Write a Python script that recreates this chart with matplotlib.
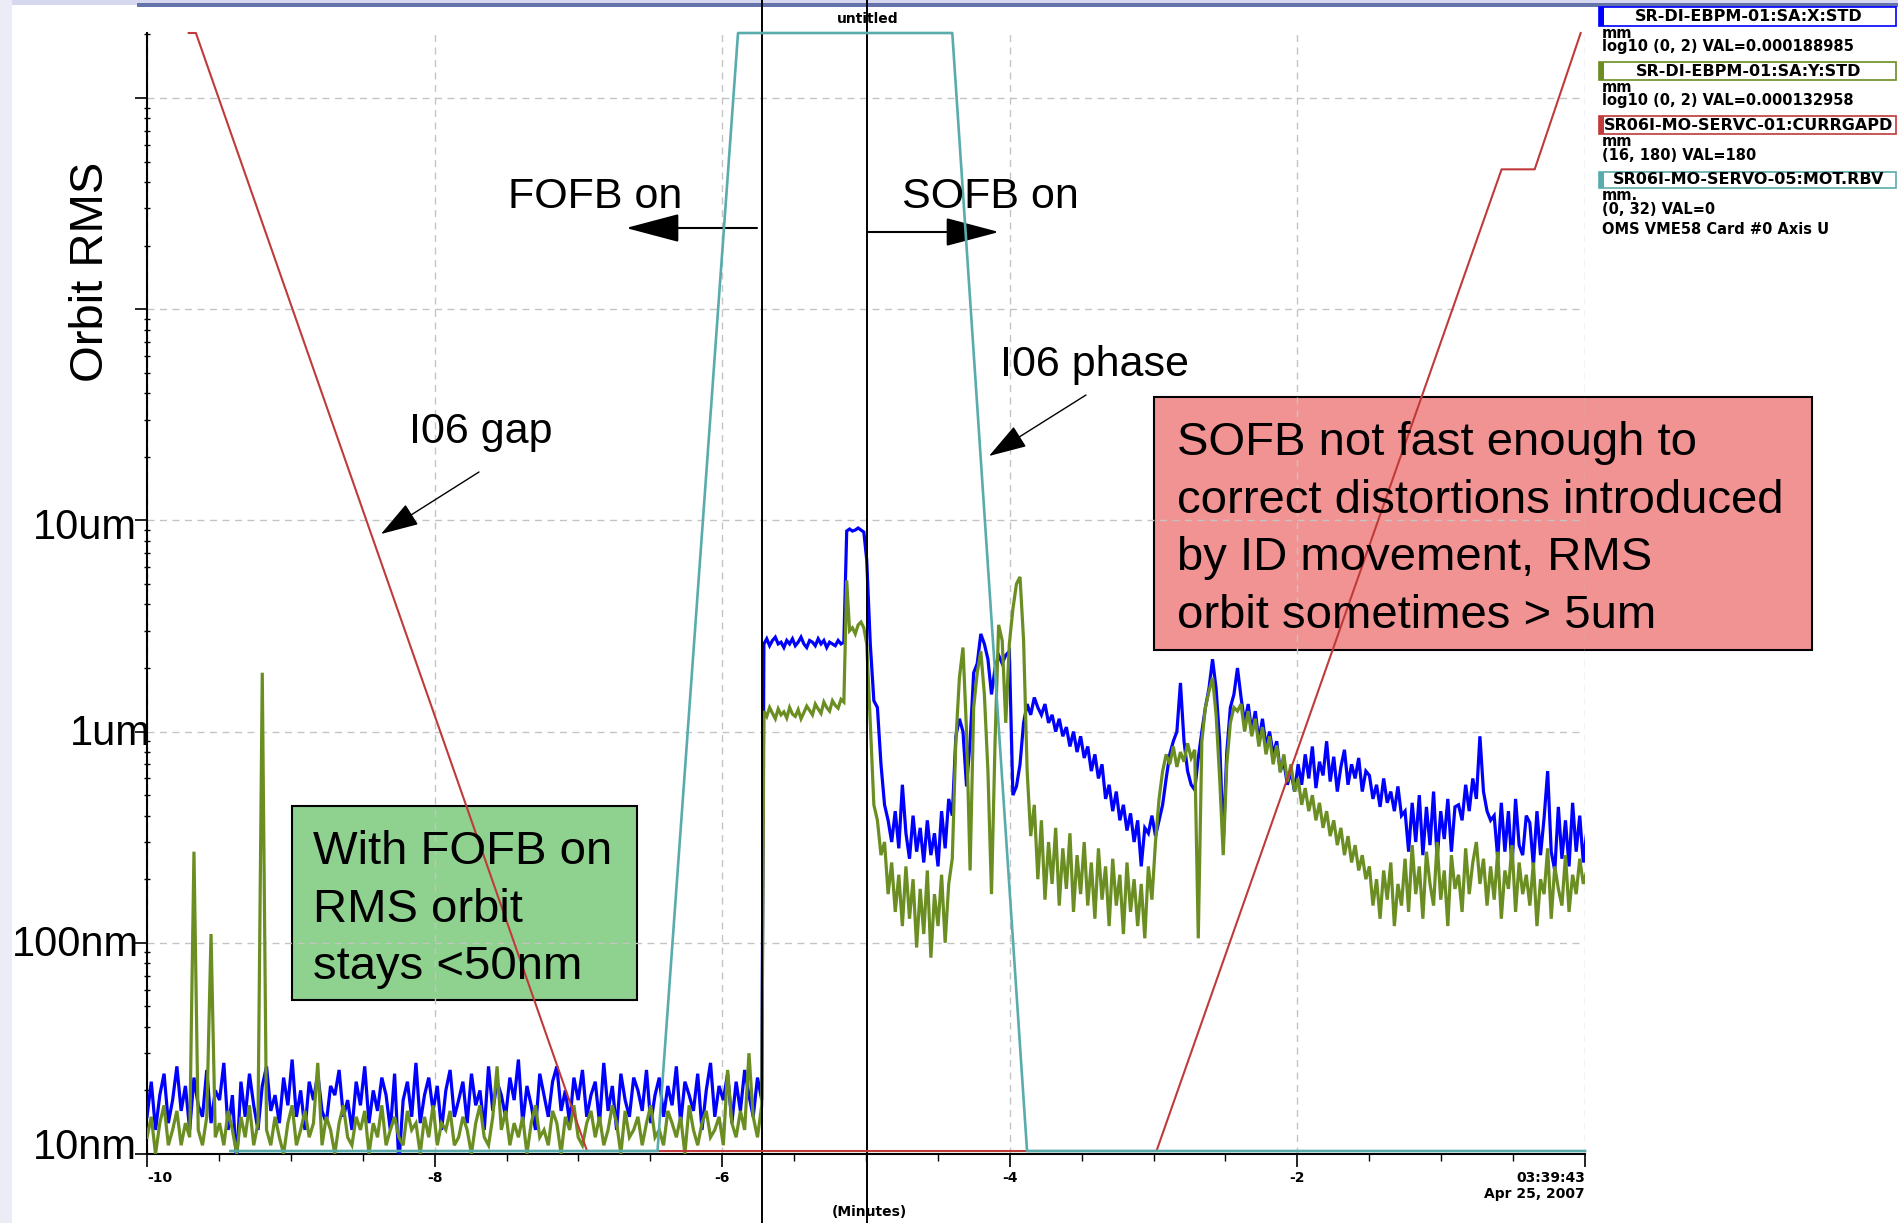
import matplotlib
matplotlib.use("Agg")
import matplotlib.pyplot as plt
import numpy as np
from matplotlib.patches import Rectangle
from matplotlib.ticker import LogLocator, NullFormatter, MultipleLocator

plt.rcParams['font.family'] = ['Liberation Sans', 'DejaVu Sans']

# ---- orbit RMS (nm) ----
# FOFB running, -10 .. -5.72 min
xrms_fofb = [15, 22, 13, 19, 24, 14, 18, 26, 16, 21, 13, 23, 17, 15, 25,
             14, 20, 18, 27, 13, 19, 9, 22, 15, 24, 17, 13, 21, 26, 16,
             19, 14, 23, 17, 28, 15, 20, 13, 22, 18, 24, 16, 14, 21, 19,
             25, 15, 18, 13, 22, 17, 26, 14, 20, 16, 23, 19, 13, 24, 9,
             18, 22, 15, 27, 14, 19, 23, 16, 21, 13, 20, 25, 15, 18, 22,
             14, 24, 17, 20, 13, 26, 16, 22, 19, 15, 23, 18, 28, 14, 21,
             17, 13, 24, 19, 15, 22, 26, 16, 20, 14, 23, 18, 25, 15, 19,
             22, 14, 27, 16, 21, 13, 24, 18, 15, 23, 20, 16, 25, 14, 19,
             23, 15, 21, 17, 26, 14, 22, 19, 16, 24, 13, 20, 27, 15, 21,
             18, 24, 14, 22, 16, 25, 19, 15, 23, 18]
yrms_fofb = [12, 15, 10, 14, 17, 11, 13, 16, 11, 14, 12, 270, 13, 11, 15,
             110, 12, 14, 11, 16, 13, 10, 15, 12, 17, 11, 14, 1900, 13, 11,
             15, 12, 10, 14, 17, 11, 13, 16, 12, 14, 27, 11, 15, 13, 10,
             14, 17, 12, 11, 15, 13, 16, 10, 14, 12, 17, 11, 13, 15, 12,
             11, 16, 13, 14, 10, 15, 12, 17, 11, 14, 13, 16, 11, 12, 15,
             13, 10, 14, 17, 12, 11, 15, 26, 13, 16, 11, 14, 12, 15, 10,
             14, 17, 12, 13, 11, 16, 14, 10, 15, 13, 17, 12, 11, 14, 16,
             12, 15, 11, 13, 17, 14, 10, 16, 12, 13, 15, 11, 14, 17, 12,
             13, 11, 16, 14, 12, 15, 10, 17, 13, 11, 14, 16, 12, 13, 15,
             11, 25, 14, 12, 16, 13, 30, 15, 12, 17]

# between FOFB off and SOFB on, -5.71 .. -5.02 min
xrms_step = [2600, 2750, 2550, 2700, 2800, 2600, 2650, 2500, 2700, 2600,
             2750, 2550, 2650, 2800, 2600, 2500, 2700, 2650, 2550, 2750,
             2600, 2700, 2500, 2650, 2600, 2550, 2700, 2600, 2650,
             8900, 9100, 8900, 9000, 9200, 9000, 8800]
yrms_step = [1250, 1180, 1300, 1220, 1150, 1280, 1200, 1240, 1160, 1300,
             1210, 1180, 1270, 1150, 1230, 1320, 1260, 1200, 1350, 1280,
             1220, 1380, 1300, 1250, 1400, 1330, 1290, 1420, 1380,
             5200, 3000, 3100, 2900, 3200, 3300, 3100]

# SOFB running, -5.0 .. 0 min
xrms_sofb = [6500, 2600, 1400, 1300, 700,
             450, 380, 300, 420, 280, 560, 330, 250, 400, 270,
             350, 240, 380, 260, 330, 230, 420, 280, 480,
             400,
             950, 1150, 1000, 550, 900, 1900, 2100, 2900, 2600, 2200,
             1500, 2000, 2300, 2100, 2300, 2400, 500, 550, 700, 1100,
             1350, 1200, 1450, 1300, 1200, 1350, 1100, 1200, 1000, 1150,
             950, 1050, 850, 1000, 800, 950, 750, 850, 650, 780,
             600, 700, 480, 560, 420, 520, 380, 450, 340, 410,
             300, 380, 230, 350, 330, 400,
             320, 380, 450, 600, 780, 900, 1000, 1700, 900, 650,
             560, 530, 750, 1000, 1300, 1600, 2200, 1600, 900, 300,
             800, 1300, 1500, 2000,
             1450, 1100, 1350, 1000, 1250, 900, 1150, 850, 1000, 780,
             900, 650, 720, 560, 650, 520,
             700, 560, 780, 600, 850, 540, 720, 620, 900, 580,
             760, 520, 680, 820, 560, 700, 600, 750, 520, 650,
             620, 480, 560, 440, 600, 460, 520, 420, 550, 400,
             420, 270, 460, 300, 500, 260, 440, 290, 520, 250,
             420, 310, 480, 270, 440,
             450, 380, 560, 420, 600, 480, 950, 520, 420, 380,
             400, 250, 460, 270, 420, 230, 480, 290, 260, 400,
             370, 230, 420, 260, 390, 650, 270, 220, 440, 250,
             380, 230, 460, 270, 400, 240, 340]
yrms_sofb = [2600, 1100, 450, 380, 260,
             300, 170, 240, 140, 210, 120, 230, 130, 200, 95,
             180, 110, 220, 85, 170, 120, 210, 100, 190,
             250,
             900, 1800, 2500, 1000, 220, 1300, 1900, 2400, 1500, 650,
             170, 900, 3200, 2700, 1100, 2600, 3800, 5000, 5400, 2700,
             650, 320, 450, 200, 380, 160, 300, 190, 350, 150,
             280, 180, 330, 140, 260, 170, 300, 150, 240, 130,
             280, 160, 230, 120, 250, 150, 210, 110, 240, 140,
             200, 120, 190, 105, 230, 160,
             300, 480, 650, 780, 700, 850, 680, 800, 720, 880,
             750, 820, 105, 900, 1300, 1550, 1800, 1200, 600, 260,
             700, 1100, 1300, 1250,
             1350, 1000, 1250, 950, 1150, 850, 1050, 780, 950, 700,
             860, 640, 780, 580, 700, 520,
             600, 450, 540, 420, 500, 380, 460, 350, 420, 320,
             380, 290, 350, 260, 320, 240, 290, 220, 260, 200,
             230, 150, 200, 130, 220, 160, 240, 120, 190, 150,
             250, 140, 290, 170, 230, 130, 270, 190, 150, 300,
             160, 220, 120, 260, 180,
             210, 140, 280, 170, 240, 300, 190, 250, 150, 230,
             160, 270, 130, 220, 180, 290, 140, 240, 170, 210,
             150, 240, 120, 200, 170, 280, 130, 230, 180, 150,
             260, 140, 210, 170, 250, 190, 220]

# ID gap (mm) and ID phase (mm)
gap_t = [-9.71, -9.66, -6.94, -2.98, -0.58, -0.35, -0.03]
gap_mm = [180, 180, 16, 16, 160, 160, 180]
phase_t = [-9.42, -6.45, -5.89, -4.40, -3.88, 0.0]
phase_mm = [0, 0, 32, 32, 0, 0]

# FOFB switched off / SOFB switched on
switch_t = [-5.72, -4.99]

xtick_pos = [-10, -8, -6, -4, -2, 0]
xtick_lab = ['-10', '-8', '-6', '-4', '-2', '03:39:43\nApr 25, 2007']

W, H = 1898, 1223


def fp(x, y):
    # pixel (from top left) -> figure fraction
    return (x / W, 1 - y / H)


fig = plt.figure(figsize=(W / 100, H / 100), dpi=100)
fig.patch.set_facecolor('white')

ax = fig.add_axes([147 / W, 1 - 1154 / H, (1585 - 147) / W, (1154 - 33) / H])
ax.patch.set_visible(False)

t_fofb = np.linspace(-10.0, -5.725, len(xrms_fofb))
t_step = np.linspace(-5.71, -5.015, len(xrms_step))
t_sofb = np.linspace(-4.995, 0.013, len(xrms_sofb))
t_all = np.concatenate([t_fofb, t_step, t_sofb])

ax.plot(t_all, xrms_fofb + xrms_step + xrms_sofb, color='#0000ff', lw=2.3,
        solid_joinstyle='miter', zorder=3)
ax.plot(t_all, yrms_fofb + yrms_step + yrms_sofb, color='#6b8e23', lw=2.3,
        solid_joinstyle='miter', zorder=4)

ax.set_yscale('log')
ax.set_xlim(-10, 0)
ax.set_ylim(10, 2.03e6)
ax.set_xticks(xtick_pos)
ax.set_xticklabels(xtick_lab, fontsize=10, fontweight='bold', family='DejaVu Sans')
xl = ax.get_xticklabels()
xl[0].set_ha('left')
xl[-1].set_ha('right')
xl[-1].set_multialignment('right')
ax.xaxis.set_minor_locator(MultipleLocator(0.5))
ax.set_yticks([10, 1e2, 1e3, 1e4, 1e5, 1e6])
ax.yaxis.set_major_formatter(NullFormatter())
ax.yaxis.set_minor_locator(LogLocator(base=10, subs=np.arange(2, 10)))
ax.yaxis.set_minor_formatter(NullFormatter())
ax.tick_params(axis='x', which='major', length=9, width=1.2, pad=3)
ax.tick_params(axis='x', which='minor', length=5, width=1)
ax.tick_params(axis='y', which='major', length=9, width=1.2)
ax.tick_params(axis='y', which='minor', length=4, width=1, direction='inout')
ax.grid(True, which='major', color='#c4c4c4', ls=(0, (5, 4)), lw=1.0)
for s in ('top', 'right'):
    ax.spines[s].set_visible(False)
for s in ('left', 'bottom'):
    ax.spines[s].set_linewidth(1.5)

for t in switch_t:
    ax.axvline(t, ymin=-0.0616, ymax=1.0294, color='black', lw=1.4, clip_on=False, zorder=5)

ax2 = ax.twinx()
ax2.set_ylim(15.56, 180)
ax2.plot(gap_t, gap_mm, color='#c03a3a', lw=1.5, clip_on=False)
ax2.axis('off')

ax3 = ax.twinx()
ax3.set_ylim(-0.086, 32)
ax3.plot(phase_t, phase_mm, color='#5aacac', lw=1.9, clip_on=False)
ax3.axis('off')

# window decoration
fig.add_artist(Rectangle((0, 1 - 5 / H), 1, 5 / H, transform=fig.transFigure,
                         facecolor='#d6d8ef', lw=0, zorder=-2))
fig.add_artist(Rectangle((137 / W, 1 - 7 / H), 1, 3.5 / H, transform=fig.transFigure,
                         facecolor='#6474aa', lw=0, zorder=-2))
fig.add_artist(Rectangle((0, 0), 12 / W, 1, transform=fig.transFigure,
                         facecolor='#ececf7', lw=0, zorder=-2))

fig.text(*fp(868, 19), 'untitled', ha='center', va='center', fontsize=10,
         fontweight='bold', family='DejaVu Sans')
fig.text(*fp(869, 1212), '(Minutes)', ha='center', va='center', fontsize=10,
         fontweight='bold', family='DejaVu Sans')

# y labels put on by hand in the slide
for lab, x, y in [('10um', 33, 539), ('1um', 70, 745), ('100nm', 12, 956), ('10nm', 33, 1159)]:
    fig.text(*fp(x, y), lab, ha='left', va='baseline', fontsize=30)
fig.text(*fp(91, 272), 'Orbit RMS', rotation=90, ha='center', va='center', fontsize=34)

# annotations
fig.text(*fp(595, 208), 'FOFB on', ha='center', va='baseline', fontsize=31)
fig.text(*fp(990, 208), 'SOFB on', ha='center', va='baseline', fontsize=31)
fig.text(*fp(1095, 376), 'I06 phase', ha='center', va='baseline', fontsize=31)
fig.text(*fp(481, 443), 'I06 gap', ha='center', va='baseline', fontsize=31)

big = dict(arrowstyle='-|>,head_length=1.7,head_width=0.45', mutation_scale=20,
           color='black', lw=1.5, shrinkA=0, shrinkB=0)
thin = dict(arrowstyle='-|>,head_length=1.2,head_width=0.38', mutation_scale=20,
            color='black', lw=1.0, shrinkA=0, shrinkB=0)
ax.annotate('', xy=fp(626, 228), xytext=fp(757, 228), xycoords='figure fraction', arrowprops=big)
ax.annotate('', xy=fp(999, 232), xytext=fp(868, 232), xycoords='figure fraction', arrowprops=big)
ax.annotate('', xy=fp(989, 456), xytext=fp(1086, 395), xycoords='figure fraction', arrowprops=thin)
ax.annotate('', xy=fp(381, 534), xytext=fp(479, 472), xycoords='figure fraction', arrowprops=thin)

# text boxes
x0, y0 = fp(1154, 650)
fig.add_artist(Rectangle((x0, y0), 658 / W, 253 / H, transform=fig.transFigure,
                         facecolor='#f29393', edgecolor='black', lw=1.5, zorder=-1))
for line, y in zip(['SOFB not fast enough to', 'correct distortions introduced',
                    'by ID movement, RMS', 'orbit sometimes > 5um'], [455, 513, 570, 628]):
    fig.text(*fp(1177, y), line, ha='left', va='baseline', fontsize=34)

x0, y0 = fp(292, 1000)
fig.add_artist(Rectangle((x0, y0), 345 / W, 194 / H, transform=fig.transFigure,
                         facecolor='#8fd18f', edgecolor='black', lw=1.5, zorder=-1))
for line, y in zip(['With FOFB on', 'RMS orbit', 'stays <50nm'], [864, 922, 979]):
    fig.text(*fp(313, y), line, ha='left', va='baseline', fontsize=34)

# legend of the archiver viewer
legend = [('SR-DI-EBPM-01:SA:X:STD', '#0000ff', 7, 26,
           [('mm', 33), ('log10 (0, 2) VAL=0.000188985', 47)]),
          ('SR-DI-EBPM-01:SA:Y:STD', '#6b8e23', 62, 80,
           [('mm', 87), ('log10 (0, 2) VAL=0.000132958', 101)]),
          ('SR06I-MO-SERVC-01:CURRGAPD', '#c03a3a', 116, 134,
           [('mm', 141), ('(16, 180) VAL=180', 155)]),
          ('SR06I-MO-SERVO-05:MOT.RBV', '#5aacac', 172, 188,
           [('mm.', 196), ('(0, 32) VAL=0', 210), ('OMS VME58 Card #0 Axis U', 230)])]
for name, col, top, bot, rows in legend:
    bx, by = fp(1599, bot)
    fig.add_artist(Rectangle((bx, by), 297 / W, (bot - top) / H, transform=fig.transFigure,
                             facecolor='white', edgecolor=col, lw=1.2, zorder=6))
    fig.add_artist(Rectangle((bx, by), 5 / W, (bot - top) / H, transform=fig.transFigure,
                             facecolor=col, lw=0, zorder=7))
    fig.text(*fp(1749, (top + bot) / 2), name, ha='center', va='center', fontsize=11.5,
             fontweight='bold', family='DejaVu Sans', zorder=8)
    for txt, y in rows:
        fig.text(*fp(1602, y), txt, ha='left', va='center', fontsize=10.5,
                 fontweight='bold', family='DejaVu Sans', zorder=5)

fig.savefig('out.png', dpi=100)
